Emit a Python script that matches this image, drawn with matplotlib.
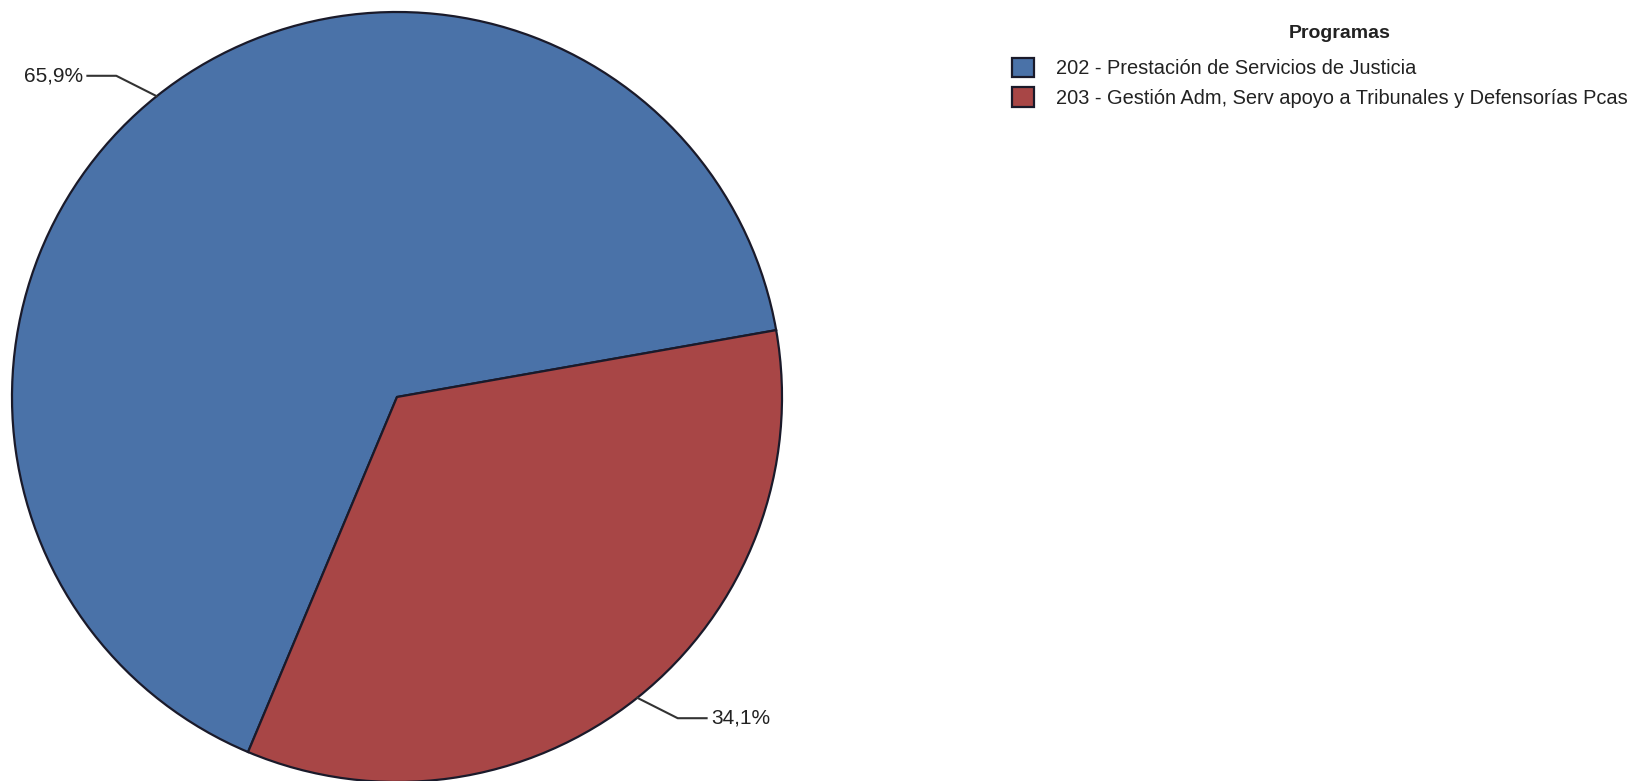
import numpy as np
import matplotlib.pyplot as plt

plt.rcParams['font.family'] = ['Liberation Sans', 'DejaVu Sans']

programas = ['202 - Prestación de Servicios de Justicia',
             '203 - Gestión Adm, Serv apoyo a Tribunales y Defensorías Pcas']
porcentajes = [65.9, 34.1]
etiquetas = ['65,9%', '34,1%']
colores = ['#4A72A8', '#A84646']

W, H = 1640, 781
fig = plt.figure(figsize=(W / 100, H / 100), dpi=100)

# pie axes placed in pixels: centre (397, 397), radius 385
cx, cy, r = 397, 397, 385
ax = fig.add_axes([(cx - r) / W, (H - cy - r) / H, 2 * r / W, 2 * r / H])
wedges, _ = ax.pie(porcentajes, colors=colores, startangle=10, radius=1,
                   wedgeprops=dict(edgecolor='#1a1a2a', linewidth=1.6))
ax.set_xlim(-1, 1)
ax.set_ylim(-1, 1)
ax.axis('off')

# leader lines with labels
for w, txt in zip(wedges, etiquetas):
    ang = np.deg2rad((w.theta1 + w.theta2) / 2)
    x0, y0 = np.cos(ang), np.sin(ang)
    sx, sy = np.sign(x0), np.sign(y0)
    x1, y1 = x0 + sx * 0.105, y0 + sy * 0.053
    x2 = x1 + sx * 0.075
    ax.plot([x0, x1, x2], [y0, y1, y1], color='#333333', lw=1.5, clip_on=False)
    ax.text(x2 + sx * 0.012, y1, txt, ha='left' if sx > 0 else 'right',
            va='center', fontsize=15, color='#222222', clip_on=False)

fig.text(1340 / W, 1 - 34 / H, 'Programas', ha='center', va='center',
         fontsize=14, fontweight='bold', color='#222222')

fig.legend(wedges, programas, loc='upper left',
           bbox_to_anchor=(1012 / W, 1 - 58 / H), frameon=False,
           fontsize=14.4, handlelength=1.1, handleheight=1.1,
           handletextpad=1.1, labelspacing=0.45, borderpad=0,
           borderaxespad=0, labelcolor='#222222')

fig.savefig('out.png', dpi=100)
